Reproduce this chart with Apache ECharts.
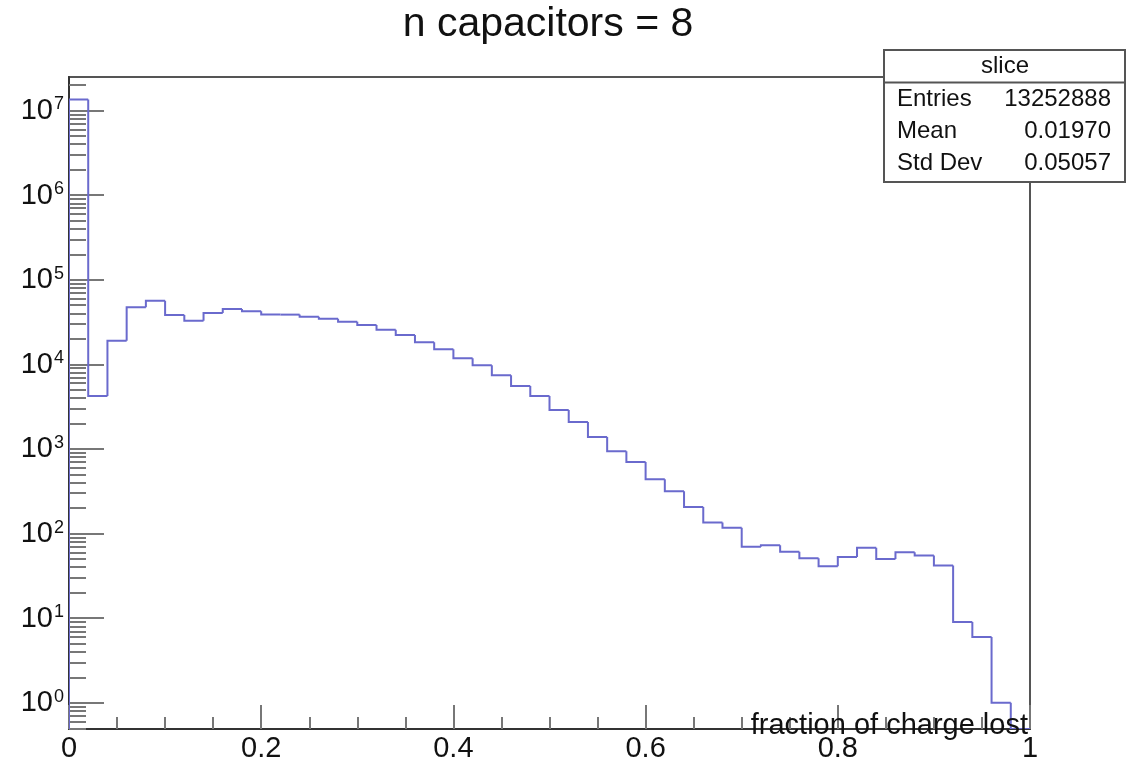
<!DOCTYPE html>
<html>
<head>
<meta charset="utf-8">
<script src="https://cdn.jsdelivr.net/npm/echarts@6/dist/echarts.min.js"></script>
<style>
html,body{margin:0;padding:0;background:#fff;}
#chart{width:1133px;height:763px;}
</style>
</head>
<body>
<div id="chart"></div>
<script>
// ---- data ----
const titleText = 'n capacitors = 8';
const xAxisTitle = 'fraction of charge lost';
const xRange = [0, 1];
const nBins = 50;
const counts = [
  13500000, 4230, 19000, 47200, 56600, 38300, 32800, 40400, 45000, 42300,
  38700, 38700, 36600, 34700, 31900, 29100, 25700, 22200, 18300, 15100,
  11800, 9770, 7430, 5560, 4230, 2880, 2080, 1380, 942, 703,
  438, 316, 206, 135, 117, 70, 73, 61, 51, 41,
  53, 68, 50, 60, 55, 42, 9, 6, 1, 0
];
const xTicks = [0, 0.2, 0.4, 0.6, 0.8, 1];
const yMajorTicks = [1, 10, 100, 1000, 10000, 100000, 1000000, 10000000];
const yMinorMantissas = [2, 3, 4, 5, 6, 7, 8, 9];
const yRange = [0.49, 24900000];
const statsTitle = 'slice';
const statsLabels = ['Entries', 'Mean', 'Std Dev'];
const statsValues = ['13252888', '0.01970', '0.05057'];

// ---- derived ----
const binWidth = (xRange[1] - xRange[0]) / nBins;
const yMinorTicks = [];
for (let e = -1; e <= 7; e++) {
  for (const m of yMinorMantissas) {
    const v = m * Math.pow(10, e);
    if (v >= yRange[0] && v <= yRange[1]) yMinorTicks.push(v);
  }
}
const histData = counts.map((c, i) => [i, c]);

const chart = echarts.init(document.getElementById('chart'), null, {renderer: 'canvas'});
const LINE_COLOR = '#6a6acd';
const AX = '#555';
const TK = '#777';
const FONT = 'Liberation Sans, Arial, sans-serif';

const option = {
  animation: false,
  backgroundColor: '#fff',
  grid: {left: 69, right: 103, top: 77, bottom: 33, show: true, borderColor: AX, borderWidth: 2, backgroundColor: 'transparent'},
  xAxis: {
    type: 'value', min: xRange[0], max: xRange[1], interval: 0.2,
    axisLine: {show: true, onZero: false, lineStyle: {color: '#333', width: 2}},
    axisTick: {show: true, inside: true, length: 24, lineStyle: {color: TK, width: 2}},
    minorTick: {show: true, splitNumber: 4, length: 12, lineStyle: {color: TK, width: 2}},
    splitLine: {show: false},
    axisLabel: {fontSize: 29, color: '#111', margin: 5, fontFamily: FONT,
      formatter: v => String(+v.toFixed(2))}
  },
  yAxis: [
    {
      type: 'log', logBase: 10, min: yRange[0], max: yRange[1],
      axisLine: {show: true, lineStyle: {color: '#333', width: 2}},
      axisTick: {show: true, inside: true, length: 35, lineStyle: {color: TK, width: 2}, customValues: yMajorTicks},
      splitLine: {show: false},
      axisLabel: {
        customValues: yMajorTicks, margin: 5, color: '#111', fontFamily: FONT,
        formatter: v => '{b|10}{s|' + Math.round(Math.log10(v)) + '}',
        rich: {
          b: {fontSize: 29, color: '#111', fontFamily: FONT, lineHeight: 30, verticalAlign: 'bottom'},
          s: {fontSize: 18, color: '#111', fontFamily: FONT, lineHeight: 30, verticalAlign: 'top', padding: [0, 0, 0, 1]}
        }
      }
    },
    {
      type: 'log', logBase: 10, min: yRange[0], max: yRange[1], position: 'left',
      axisLine: {show: false},
      axisTick: {show: true, inside: true, length: 17, lineStyle: {color: TK, width: 2}, customValues: yMinorTicks},
      splitLine: {show: false},
      axisLabel: {show: false}
    }
  ],
  series: [{
    type: 'custom',
    xAxisIndex: 0, yAxisIndex: 0,
    clip: true,
    data: histData,
    encode: {x: 0, y: 1},
    renderItem: function (params, api) {
      const i = api.value(0);
      const v = counts[i] > yRange[0] ? counts[i] : yRange[0];
      const pv = i === 0 ? yRange[0] : (counts[i - 1] > yRange[0] ? counts[i - 1] : yRange[0]);
      const lo = xRange[0] + i * binWidth;
      const hi = lo + binWidth;
      const pts = [api.coord([lo, pv]), api.coord([lo, v]), api.coord([hi, v])];
      if (i === counts.length - 1) pts.push(api.coord([hi, yRange[0]]));
      return {
        type: 'polyline',
        shape: {points: pts},
        style: {stroke: LINE_COLOR, lineWidth: 2, fill: null, lineJoin: 'miter'},
        z2: 10
      };
    }
  }],
  graphic: [
    {type: 'text', x: 548, y: 25, z: 100, style: {text: titleText, fontSize: 41, fontFamily: FONT, fill: '#111', align: 'center', verticalAlign: 'middle'}},
    {type: 'text', x: 1028, y: 726, z: 100, style: {text: xAxisTitle, fontSize: 29, fontFamily: FONT, fill: '#111', align: 'right', verticalAlign: 'middle'}},
    {type: 'rect', z: 100, shape: {x: 884, y: 50, width: 241, height: 132}, style: {fill: '#fff', stroke: AX, lineWidth: 2}},
    {type: 'line', z: 101, shape: {x1: 884, y1: 82.5, x2: 1125, y2: 82.5}, style: {stroke: AX, lineWidth: 2}},
    {type: 'text', z: 102, x: 1005, y: 66, style: {text: statsTitle, fontSize: 24, fontFamily: FONT, fill: '#111', align: 'center', verticalAlign: 'middle'}},
    ...statsLabels.map((t, k) => ({type: 'text', z: 102, x: 897, y: 99 + k * 32, style: {text: t, fontSize: 24, fontFamily: FONT, fill: '#111', align: 'left', verticalAlign: 'middle'}})),
    ...statsValues.map((t, k) => ({type: 'text', z: 102, x: 1111, y: 99 + k * 32, style: {text: t, fontSize: 24, fontFamily: FONT, fill: '#111', align: 'right', verticalAlign: 'middle'}}))
  ]
};
chart.setOption(option);
</script>
</body>
</html>
